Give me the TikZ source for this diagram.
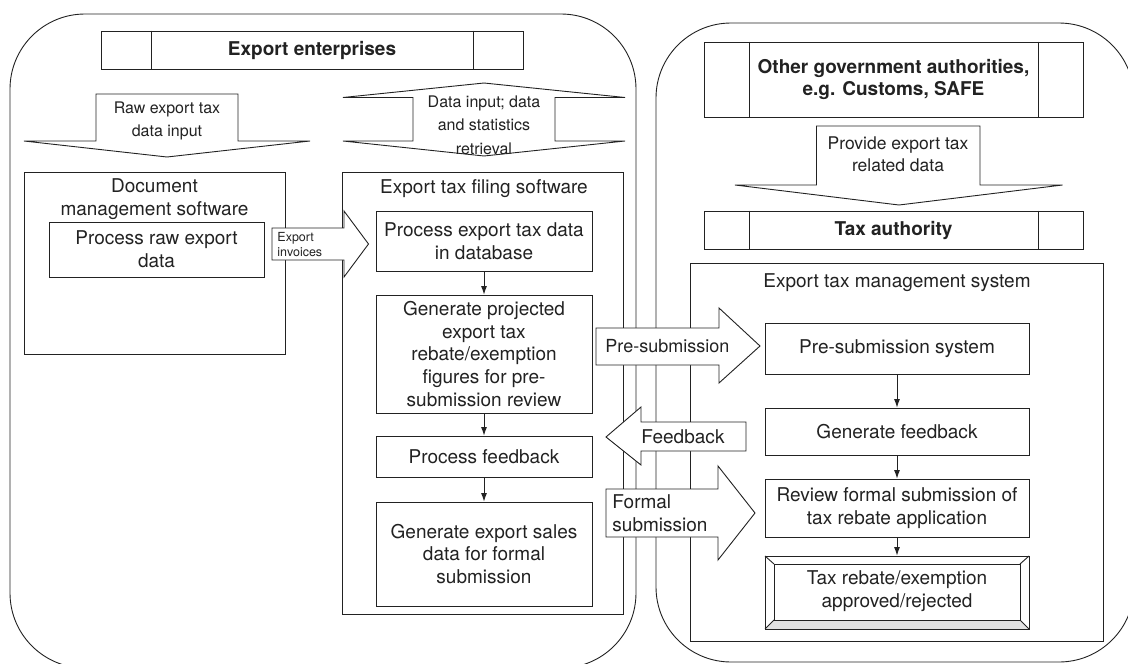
\documentclass[tikz,border=0pt]{standalone}
\usepackage{fontspec}
\setmainfont{TeX Gyre Heros}
\usetikzlibrary{arrows.meta}
\definecolor{ink}{HTML}{222222}
\definecolor{bevelgrey}{HTML}{E2E2E2}
\newcommand\fsBody{\fontsize{19}{22.8}\selectfont}
\newcommand\fsArrow{\fontsize{16}{23.5}\selectfont}
\newcommand\fsProv{\fontsize{17.5}{22}\selectfont}
\newcommand\fsSmall{\fontsize{12.5}{15}\selectfont}
\begin{document}
\begin{tikzpicture}[x=1pt,y=-1pt,color=ink,line width=0.9pt,
  container/.style={draw=ink,rounded corners=75pt},
  procbox/.style={draw=ink,fill=white,align=center,
    font=\fsBody,text=ink,inner sep=0pt},
  headbox/.style={procbox,font=\fsBody\bfseries},
  label/.style={align=center,font=\fsBody,text=ink,inner sep=0pt},
  blockarrow/.style={draw=ink,fill=white,line join=miter},
  flow/.style={draw=ink,-{Latex[length=8.5pt,width=6pt]}}
]
\clip (0,0) rectangle (1128,664);

% ---------- two rounded containers ----------
\draw[container] (10,14) rectangle (636,668);
\draw[container] (656,23) rectangle (1134,662);

% ---------- left side: export enterprises ----------
\node[headbox,minimum width=422pt,minimum height=38pt] (ee) at (312,50) {Export enterprises};
\draw (ee.north west) ++(51,0) -- ++(0,38);
\draw (ee.north east) ++(-50,0) -- ++(0,38);

\node[procbox,minimum width=261pt,minimum height=182pt] (docsw) at (154.5,263) {};
\node[label] (doctitle) at (154.5,199) {Document\\management software};
\node[procbox,minimum width=215pt,minimum height=55pt] (rawproc) at (156.5,249.5) {Process raw export\\data};

\node[procbox,minimum width=280.5pt,minimum height=442pt] (filing) at (482.75,393) {};
\node[label] (filingtitle) at (484,189) {Export tax filing software};
\node[procbox,minimum width=216pt,minimum height=60pt] (pe) at (484,241) {Process export tax data\\in database};
\node[procbox,minimum width=216pt,minimum height=118pt] (gp) at (484,354) {Generate projected\\export tax\\rebate/exemption\\figures for pre-\\submission review};
\node[procbox,minimum width=216pt,minimum height=41pt] (pf) at (484,456.5) {Process feedback};
\node[procbox,minimum width=216pt,minimum height=104pt] (gs) at (484,554) {Generate export sales\\data for formal\\submission};

\draw[flow] (pe) -- (gp);
\draw[flow] (gp) -- (pf);
\draw[flow] (pf) -- (gs);

% ---------- right side: authorities ----------
\node[headbox,minimum width=379pt,minimum height=75pt] (og) at (893.5,79.5) {Other government authorities,\\e.g. Customs, SAFE};
\draw (og.north west) ++(46,0) -- ++(0,75);
\draw (og.north east) ++(-45.5,0) -- ++(0,75);

\node[headbox,minimum width=379pt,minimum height=38pt] (ta) at (893.5,230) {Tax authority};
\draw (ta.north west) ++(46,0) -- ++(0,38);
\draw (ta.north east) ++(-45.5,0) -- ++(0,38);

\node[procbox,minimum width=413.5pt,minimum height=378pt] (etms) at (896.75,452) {};
\node[label] (etmstitle) at (897,283) {Export tax management system};
\node[procbox,minimum width=264pt,minimum height=51pt] (ps) at (897,348.5) {Pre-submission system};
\node[procbox,minimum width=264pt,minimum height=47pt] (gf) at (897,431.5) {Generate feedback};
\node[procbox,minimum width=264pt,minimum height=58pt] (rv) at (897,508) {Review formal submission of\\tax rebate application};

% bevelled result box
\node[procbox,minimum width=264pt,minimum height=73pt] (tr) at (897,592.5) {};
\fill[bevelgrey] (765,629) -- (1029,629) -- (1020,620) -- (774,620) -- cycle;
\draw (765,556) rectangle (1029,629);
\draw (774,564) rectangle (1020,620);
\draw (765,556) -- (774,564) (1029,556) -- (1020,564)
      (765,629) -- (774,620) (1029,629) -- (1020,620);
\node[label] (trtext) at (897,591) {Tax rebate/exemption\\approved/rejected};

\draw[flow] (ps) -- (gf);
\draw[flow] (gf) -- (rv);
\draw[flow] (rv) -- (tr);

% ---------- block arrows ----------
% raw data input (down)
\draw[blockarrow] (96,94) -- (238,94) -- (238,141) -- (310,141) -- (167,157)
  -- (24,141) -- (96,141) -- cycle;
\node[label,font=\fsArrow] (rawlbl) at (167,121) {Raw export tax\\data input};

% data input and retrieval (up and down)
\draw[blockarrow] (484,83) -- (625,97.5) -- (555,97.5) -- (555,141) -- (625,141)
  -- (484,156) -- (343,141) -- (413,141) -- (413,97.5) -- (343,97.5) -- cycle;
\node[label,font=\fsArrow] (datalbl) at (484,125) {Data input; data\\and statistics\\retrieval};

% export invoices (right)
\draw[blockarrow] (272,228) -- (344,228) -- (344,211) -- (368.5,244) -- (344,277)
  -- (344,260) -- (272,260) -- cycle;
\node[label,font=\fsSmall,align=left,anchor=west] (invlbl) at (277,245) {Export\\invoices};

% provide export tax related data (down)
\draw[blockarrow] (816.5,126) -- (980,126) -- (980,185) -- (1062.5,185) -- (899,205)
  -- (735,185) -- (816.5,185) -- cycle;
\node[label,font=\fsProv] (provlbl) at (898,154) {Provide export tax\\related data};

% pre-submission (right)
\draw[blockarrow] (596,328) -- (719,328) -- (719,308) -- (760,346) -- (719,383)
  -- (719,365) -- (596,365) -- cycle;
\node[label,font=\fontsize{18}{21.6}\selectfont,anchor=west] (prelbl) at (605,346) {Pre-submission};

% feedback (left)
\draw[blockarrow] (606,437) -- (641,407) -- (641,422) -- (746,422) -- (746,451)
  -- (641,451) -- (641,465) -- cycle;
\node[label,anchor=west] (fblbl) at (641,437) {Feedback};

% formal submission (right)
\draw[blockarrow] (606,489) -- (718,489) -- (718,466) -- (755,513) -- (718,560)
  -- (718,537) -- (606,537) -- cycle;
\node[label,align=left,anchor=west] (formlbl) at (612,513) {Formal\\submission};
\end{tikzpicture}
\end{document}
